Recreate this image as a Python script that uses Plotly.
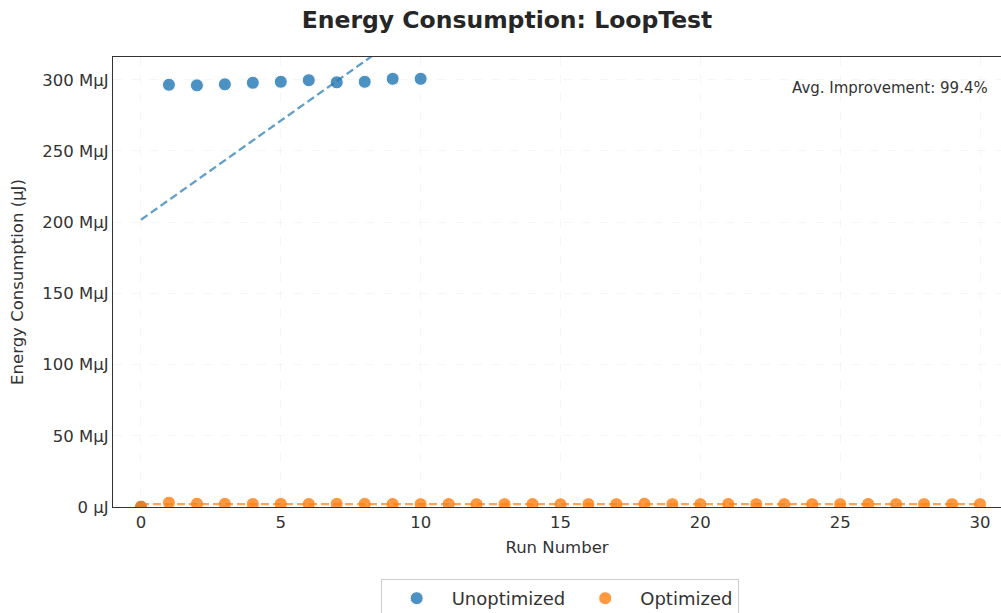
import numpy as np
import plotly.graph_objects as go

runs_unopt = list(range(0, 11))
unopt_muj = [0.3, 296.5, 296.1, 296.8, 297.9, 298.6, 299.7, 298.2, 298.6, 300.7, 300.7]  # in millions of µJ

runs_opt = list(range(0, 31))
opt_muj = [0.2, 3.0, 2.3, 2.2, 2.1, 2.2, 2.1, 2.2, 2.2, 2.1, 2.0, 2.1, 2.0, 2.0, 2.1, 1.9,
           2.0, 2.0, 2.3, 2.0, 2.0, 2.1, 2.0, 2.0, 2.0, 2.0, 2.1, 2.0, 2.0, 2.0, 2.0]

ytick_vals = [0, 50, 100, 150, 200, 250, 300]
ytick_text = ["0 µJ", "50 MµJ", "100 MµJ", "150 MµJ", "200 MµJ", "250 MµJ", "300 MµJ"]
xtick_vals = [0, 5, 10, 15, 20, 25, 30]

BLUE = "#1f77b4"
ORANGE = "#ff7f0e"

y_unopt = np.array(unopt_muj) * 1e6
y_opt = np.array(opt_muj) * 1e6

fig = go.Figure()

fig.add_trace(go.Scatter(
    x=runs_unopt, y=y_unopt, mode="markers", name="Unoptimized",
    marker=dict(color=BLUE, size=13, opacity=0.8, line=dict(color="white", width=1)),
))
fig.add_trace(go.Scatter(
    x=runs_opt, y=y_opt, mode="markers", name="Optimized",
    marker=dict(color=ORANGE, size=13, opacity=0.8, line=dict(color="white", width=1)),
))

# trend lines (least-squares fits of each series)
for xs, ys, col in [(runs_unopt, y_unopt, BLUE), (runs_opt, y_opt, ORANGE)]:
    m, b = np.polyfit(xs, ys, 1)
    xx = np.array([min(xs), max(xs)], dtype=float)
    fig.add_trace(go.Scatter(
        x=xx, y=m * xx + b, mode="lines", showlegend=False, hoverinfo="skip",
        line=dict(color=col, width=2.3, dash="8px,4px"), opacity=0.7,
    ))

fig.add_annotation(
    x=0.988, y=0.93, xref="paper", yref="paper", xanchor="right", yanchor="middle",
    text="Avg. Improvement: 99.4%", showarrow=False,
    font=dict(family="DejaVu Sans", size=15, color="#333333"),
)

fig.update_layout(
    width=1001, height=613,
    margin=dict(l=113, r=0, t=57, b=106, autoexpand=False),
    paper_bgcolor="white", plot_bgcolor="white",
    font=dict(family="DejaVu Sans", size=16, color="#333333"),
    title=dict(text="<b>Energy Consumption: LoopTest</b>", x=507 / 1001, xanchor="center",
               y=0.968, yanchor="middle", font=dict(size=23.5, color="#262626")),
    showlegend=True,
    legend=dict(orientation="h", x=0.503, xanchor="center", y=-0.16, yanchor="top",
                bordercolor="#cccccc", borderwidth=1, bgcolor="white",
                font=dict(size=18, color="#333333"), itemwidth=60, tracegroupgap=0),
)

fig.update_xaxes(
    range=[-1.0, 30.75], tickvals=xtick_vals, showline=True, mirror=True,
    linecolor="#333333", linewidth=1.3, ticks="", showgrid=True,
    gridcolor="rgba(0,0,0,0.035)", griddash="dash", zeroline=False,
    title=dict(text="Run Number", font=dict(size=16.5), standoff=10),
    tickfont=dict(size=16.5),
)
fig.update_yaxes(
    range=[0, 316e6], tickvals=[v * 1e6 for v in ytick_vals], ticktext=ytick_text,
    showline=True, mirror=False, linecolor="#333333", linewidth=1.3, ticks="",
    showgrid=True, gridcolor="rgba(0,0,0,0.035)", griddash="dash", zeroline=False,
    title=dict(text="Energy Consumption (µJ)", font=dict(size=16.5), standoff=14),
    tickfont=dict(size=16.5),
)

fig.write_html("out.html")
